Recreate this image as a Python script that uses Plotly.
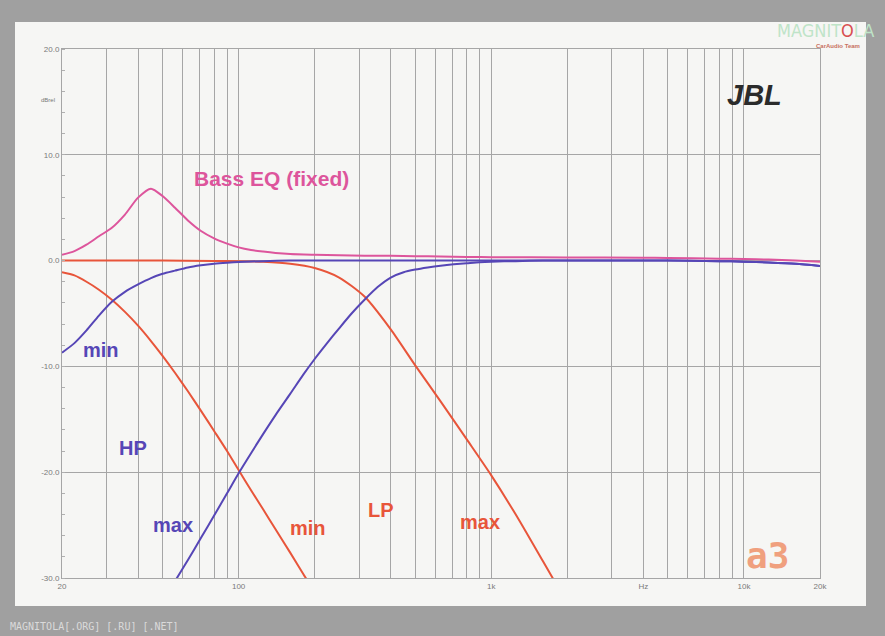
import plotly.graph_objects as go

# ---------------- data ----------------
bass_f = [20, 22.4, 25, 28, 31.5, 35.5, 40, 45, 50, 56, 63, 71, 80, 90, 100, 112, 125, 140, 160, 200, 250, 315,
          400, 500, 630, 800, 1000, 2000, 4000, 5000, 8000, 10000, 12500, 16000, 20000]
bass_db = [0.55, 0.9, 1.5, 2.3, 3.1, 4.35, 5.95, 6.8, 6.1, 5.0, 3.8, 2.8, 2.1, 1.6, 1.25, 1.0, 0.85, 0.72, 0.62, 0.55, 0.5, 0.47,
           0.45, 0.42, 0.38, 0.35, 0.32, 0.3, 0.27, 0.25, 0.18, 0.15, 0.1, 0.0, -0.1]

lpmin_f = [20, 22.4, 25, 28, 31.5, 35.5, 40, 45, 50, 56, 63, 71, 80, 90, 100, 112, 125, 140, 160, 180, 200]
lpmin_db = [-1.1, -1.4, -2.0, -2.75, -3.7, -4.85, -6.15, -7.6, -9.0, -10.6, -12.35, -14.2, -16.1, -18.0, -19.8, -21.7, -23.5, -25.4, -27.6, -29.6, -31.3]

lpmax_f = [20, 50, 80, 100, 125, 160, 200, 250, 315, 400, 500, 630, 800, 1000, 1250, 1600, 2000]
lpmax_db = [0.0, 0.0, -0.03, -0.06, -0.12, -0.3, -0.7, -1.6, -3.4, -6.5, -9.9, -13.3, -16.9, -20.3, -24.0, -28.4, -32.4]

hpmin_f = [20, 22.4, 25, 28, 31.5, 35.5, 40, 45, 50, 56, 63, 71, 80, 90, 100, 125, 160, 200, 500, 1000, 2000, 5000, 8000, 10000, 12500, 16000, 20000]
hpmin_db = [-8.7, -7.8, -6.6, -5.2, -3.9, -2.95, -2.25, -1.65, -1.25, -0.95, -0.65, -0.45, -0.3, -0.2, -0.13, -0.05, 0.0, 0.0, 0.0, 0.0, 0.0, 0.0, -0.05, -0.1, -0.18, -0.3, -0.5]

hpmax_f = [50, 56, 63, 71, 80, 90, 100, 112, 125, 140, 160, 180, 200, 224, 250, 280, 315, 355, 400, 450, 500, 560, 630, 710, 800, 900,
           1000, 1250, 1600, 2000, 5000, 8000, 10000, 12500, 16000, 20000]
hpmax_db = [-32.2, -30.3, -28.3, -26.2, -24.1, -22.0, -20.1, -18.2, -16.4, -14.6, -12.6, -10.8, -9.3, -7.8, -6.4, -5.0, -3.7, -2.5, -1.6, -1.1, -0.85, -0.65, -0.48, -0.35, -0.25, -0.15,
            -0.1, -0.05, 0.0, 0.0, 0.0, -0.05, -0.1, -0.18, -0.3, -0.5]

grid_freqs = [20, 30, 40, 50, 60, 70, 80, 90, 100, 200, 300, 400, 500, 600, 700, 800, 900,
              1000, 2000, 3000, 4000, 5000, 6000, 7000, 8000, 9000, 10000, 20000]
grid_labels = {20: "20", 100: "100", 1000: "1k", 4000: "Hz", 10000: "10k", 20000: "20k"}
y_ticks = [20, 10, 0, -10, -20, -30]
y_labels = ["20.0", "10.0", "0.0", "-10.0", "-20.0", "-30.0"]

# ---------------- style ----------------
BLUE = "#5646b6"
RED = "#e8553a"
PINK = "#dd559c"
OUTER = "#a0a0a0"

W, H = 885, 636
L, R, T, B = 62, 820, 49, 578


def px(xp):
    return (xp - L) / (R - L)


def py(yp):
    return (B - yp) / (B - T)


fig = go.Figure()

line_common = dict(shape="spline", smoothing=0.7, width=2)
fig.add_trace(go.Scatter(x=lpmax_f, y=lpmax_db, mode="lines", line=dict(color=RED, **line_common), hoverinfo="skip"))
fig.add_trace(go.Scatter(x=lpmin_f, y=lpmin_db, mode="lines", line=dict(color=RED, **line_common), hoverinfo="skip"))
fig.add_trace(go.Scatter(x=hpmin_f, y=hpmin_db, mode="lines", line=dict(color=BLUE, **line_common), hoverinfo="skip"))
fig.add_trace(go.Scatter(x=hpmax_f, y=hpmax_db, mode="lines", line=dict(color=BLUE, **line_common), hoverinfo="skip"))
fig.add_trace(go.Scatter(x=bass_f, y=bass_db, mode="lines", line=dict(color=PINK, **line_common), hoverinfo="skip"))

# paper panel
fig.add_shape(type="rect", xref="paper", yref="paper",
              x0=px(15), x1=px(866), y0=py(606), y1=py(22),
              fillcolor="#f6f6f4", line=dict(width=0), layer="below")


def label(text, x, y, color, size, family="Liberation Sans, Arial, sans-serif", xanchor="center"):
    fig.add_annotation(text=text, x=px(x), y=py(y), xref="paper", yref="paper",
                       showarrow=False, xanchor=xanchor, yanchor="middle",
                       font=dict(color=color, size=size, family=family))


label("<b>Bass EQ (fixed)</b>", 271, 178, PINK, 21)
label("<b>min</b>", 101, 350, BLUE, 20)
label("<b>HP</b>", 133, 448, BLUE, 20)
label("<b>max</b>", 173, 525, BLUE, 20)
label("<b>min</b>", 308, 528, RED, 20)
label("<b>LP</b>", 381, 510, RED, 20)
label("<b>max</b>", 480, 522, RED, 20)
label("<b><i>JBL</i></b>", 754, 95, "#2b2b2b", 29)
label("<b>a3</b>", 767, 555, "#f0a07e", 36, family="DejaVu Sans Mono, monospace")
label("dBrel", 48, 100, "#777777", 6)
label("MAGNIT<span style='color:#d85050'>O</span>LA", 825, 31, "#bfe4c8", 18,
      family="Liberation Sans Narrow, DejaVu Sans Condensed, sans-serif")
label("<b>CarAudio Team</b>", 838, 46, "#c87060", 6)
label("MAGNITOLA[.ORG] [.RU] [.NET]", 8, 626, "#dadada", 10,
      family="DejaVu Sans Mono, monospace", xanchor="left")

fig.update_layout(
    width=W, height=H,
    margin=dict(l=L, r=W - R, t=T, b=H - B),
    paper_bgcolor=OUTER,
    plot_bgcolor="#fbfbfa",
    showlegend=False,
)

fig.update_xaxes(
    type="log", range=[1.30103, 4.30103],
    tickmode="array", tickvals=grid_freqs,
    ticktext=[grid_labels.get(f, "") for f in grid_freqs],
    showgrid=True, gridcolor="#a6a6a6", gridwidth=1,
    showline=True, linecolor="#a6a6a6", linewidth=1, mirror=True,
    ticks="", tickfont=dict(size=8, color="#7a7a7a", family="Liberation Sans, Arial"),
    zeroline=False,
)
fig.update_yaxes(
    range=[-30, 20],
    tickmode="array", tickvals=y_ticks, ticktext=y_labels,
    showgrid=True, gridcolor="#a6a6a6", gridwidth=1,
    showline=True, linecolor="#a6a6a6", linewidth=1, mirror=True,
    ticks="", tickfont=dict(size=8, color="#7a7a7a", family="Liberation Sans, Arial"),
    zeroline=False,
    minor=dict(tickmode="linear", tick0=0, dtick=2, ticks="inside", ticklen=3, tickcolor="#b0b0b0", showgrid=False),
)

fig.write_html(
    "out.html",
    config={"displayModeBar": False},
    post_script="document.body.style.margin='0';document.body.style.background='" + OUTER + "';",
)
